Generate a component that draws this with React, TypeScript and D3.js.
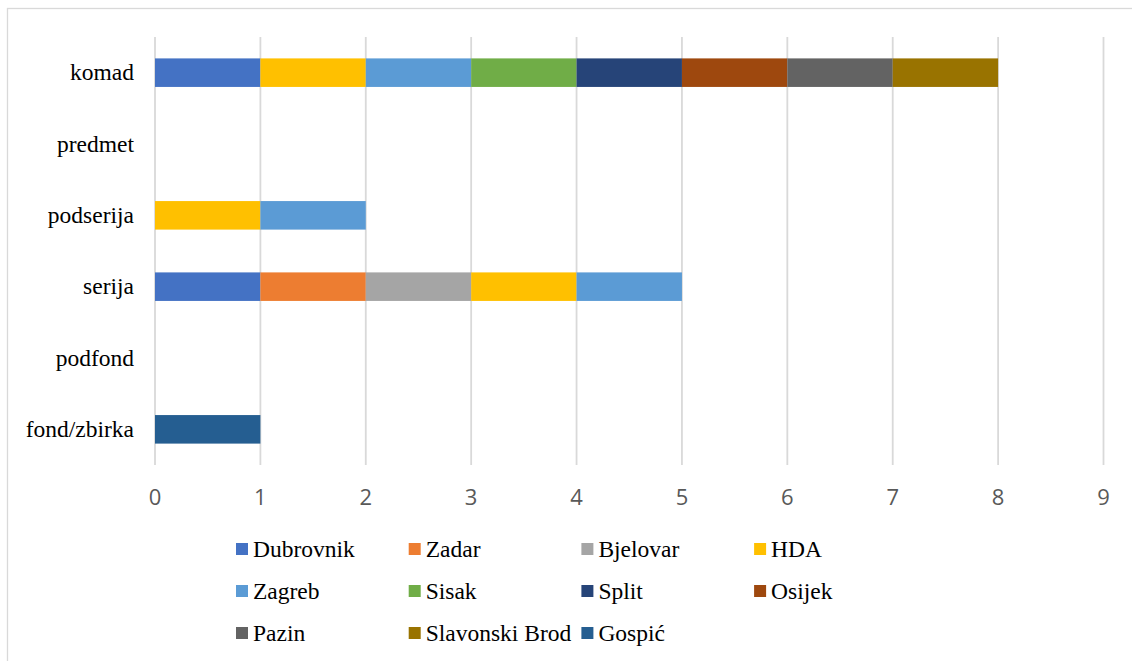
import React, { useRef, useEffect } from 'react';
import { select, scaleLinear, scaleBand, stack, range } from 'd3';

// categories, top to bottom as shown
const categories = ['komad', 'predmet', 'podserija', 'serija', 'podfond', 'fond/zbirka'];

const seriesNames = ['Dubrovnik', 'Zadar', 'Bjelovar', 'HDA', 'Zagreb', 'Sisak', 'Split', 'Osijek', 'Pazin', 'Slavonski Brod', 'Gospić'];
const seriesColors = ['#4472C4', '#ED7D31', '#A5A5A5', '#FFC000', '#5B9BD5', '#70AD47', '#264478', '#9E480E', '#636363', '#997300', '#255E91'];

// values per category (komad, predmet, podserija, serija, podfond, fond/zbirka)
const dubrovnik = [1, 0, 0, 1, 0, 0];
const zadar = [0, 0, 0, 1, 0, 0];
const bjelovar = [0, 0, 0, 1, 0, 0];
const hda = [1, 0, 1, 1, 0, 0];
const zagreb = [1, 0, 1, 1, 0, 0];
const sisak = [1, 0, 0, 0, 0, 0];
const split = [1, 0, 0, 0, 0, 0];
const osijek = [1, 0, 0, 0, 0, 0];
const pazin = [1, 0, 0, 0, 0, 0];
const slavonskiBrod = [1, 0, 0, 0, 0, 0];
const gospic = [0, 0, 0, 0, 0, 1];

const xTicks = [0, 1, 2, 3, 4, 5, 6, 7, 8, 9];

function App() {
    const ref = useRef(null);

    useEffect(() => {
        const svg = select(ref.current);
        svg.selectAll('*').remove();

        const allValues = [dubrovnik, zadar, bjelovar, hda, zagreb, sisak, split, osijek, pazin, slavonskiBrod, gospic];
        const rows = categories.map((c, i) => {
            const row = { cat: c };
            seriesNames.forEach((s, j) => { row[s] = allValues[j][i]; });
            return row;
        });
        const stacked = stack().keys(seriesNames)(rows);

        const xScale = scaleLinear().domain([0, 9]).range([155, 1103.5]);
        const yScale = scaleBand().domain(categories).range([37, 465]).paddingInner(0.6).paddingOuter(0.3);

        // outer frame
        svg.append('rect')
            .attr('x', 7.5).attr('y', 8.5)
            .attr('width', 1140).attr('height', 670)
            .attr('fill', 'none').attr('stroke', '#d9d9d9').attr('stroke-width', 1.3);

        // gridlines
        svg.append('g')
            .selectAll('line')
            .data(xTicks)
            .join('line')
            .attr('x1', (d) => xScale(d)).attr('x2', (d) => xScale(d))
            .attr('y1', 37).attr('y2', 465)
            .attr('stroke', '#d9d9d9').attr('stroke-width', 1.8);

        // bars
        svg.append('g')
            .selectAll('g')
            .data(stacked)
            .join('g')
            .attr('fill', (d, i) => seriesColors[i])
            .selectAll('rect')
            .data((d) => d.filter((p) => p[1] - p[0] > 0))
            .join('rect')
            .attr('x', (d) => xScale(d[0]))
            .attr('width', (d) => xScale(d[1]) - xScale(d[0]))
            .attr('y', (d) => yScale(d.data.cat))
            .attr('height', yScale.bandwidth());

        // x tick labels
        svg.append('g')
            .selectAll('text')
            .data(xTicks)
            .join('text')
            .attr('x', (d) => xScale(d))
            .attr('y', 505)
            .attr('text-anchor', 'middle')
            .attr('font-family', '"Open Sans", "Noto Sans", sans-serif')
            .attr('font-size', 22)
            .attr('fill', '#595959')
            .text((d) => d);

        // category labels
        svg.append('g')
            .selectAll('text')
            .data(categories)
            .join('text')
            .attr('x', 134)
            .attr('y', (d) => yScale(d) + yScale.bandwidth() / 2)
            .attr('dy', '0.33em')
            .attr('text-anchor', 'end')
            .attr('font-family', '"Liberation Serif", "Times New Roman", serif')
            .attr('font-size', 23.5)
            .attr('fill', '#000')
            .text((d) => d);

        // legend
        const legend = svg.append('g')
            .selectAll('g')
            .data(seriesNames)
            .join('g')
            .attr('transform', (d, i) => `translate(${236 + (i % 4) * 172.7},${549 + Math.floor(i / 4) * 42})`);
        legend.append('rect')
            .attr('x', 0).attr('y', -6)
            .attr('width', 12).attr('height', 12)
            .attr('fill', (d, i) => seriesColors[i]);
        legend.append('text')
            .attr('x', 17)
            .attr('y', 0)
            .attr('dy', '0.33em')
            .attr('font-family', '"Liberation Serif", "Times New Roman", serif')
            .attr('font-size', 23.5)
            .attr('fill', '#000')
            .text((d) => d);
    }, []);

    return (
        <svg ref={ref} width={1132} height={661}
            style={{ position: 'absolute', left: 0, top: 0, display: 'block', background: '#fff' }}></svg>
    );
}

export default App;
